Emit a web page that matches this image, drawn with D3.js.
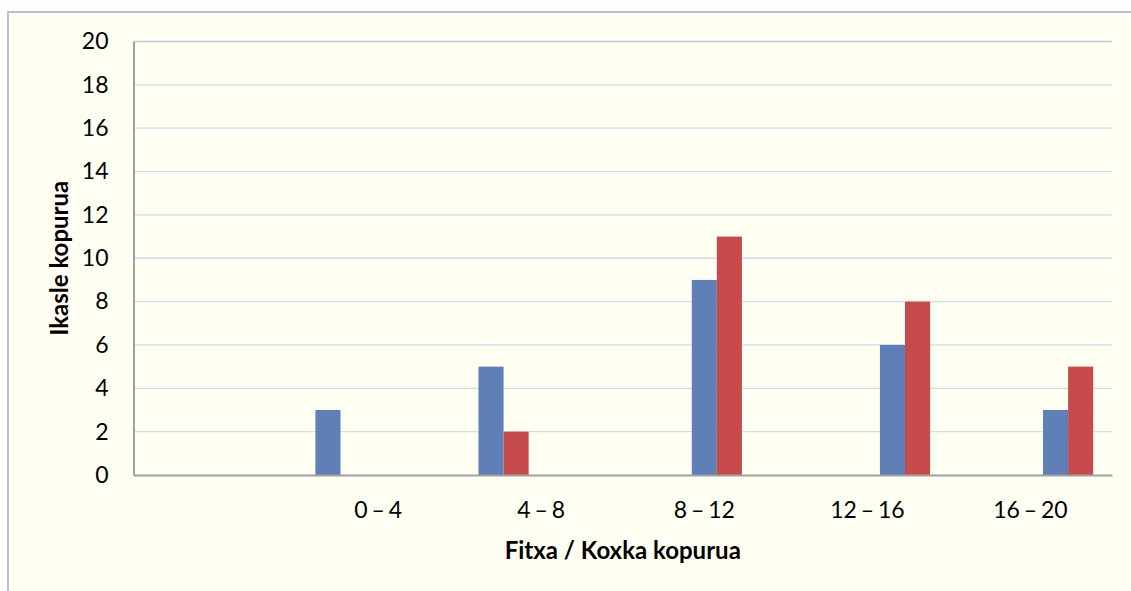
<!DOCTYPE html>
<html>
<head>
<meta charset="UTF-8">
<title>Ikasle kopurua</title>
<script src="https://cdn.jsdelivr.net/npm/d3@7"></script>
<style type="text/css">
	body{
		margin: 0;
		background: #ffffff;
	}
	svg text{
		font-family: Lato, "DejaVu Sans", sans-serif;
		fill: #000000;
	}
</style>
</head>
<body>
<script>
// first category has no label (empty slot in the original chart)
var categories = ["", "0 – 4", "4 – 8", "8 – 12", "12 – 16", "16 – 20"];
var blueValues = [null, 3, 5, 9, 6, 3];
var redValues  = [null, null, 2, 11, 8, 5];
// which of the 5 cluster slots the blue bar sits in (red is the next one)
var clusterSlot = [null, 0, 0, 2, 3, 3];
var slots = [0, 1, 2, 3, 4];
var yTicks = [0, 2, 4, 6, 8, 10, 12, 14, 16, 18, 20];

var width = 1131;
var height = 591;
var margin = {top: 41.5, right: 19, bottom: 116, left: 133.5};

var svg = d3.select("body").append("svg")
	.attr("width", width)
	.attr("height", height);

// chart area background + frame
svg.append("rect")
	.attr("x", 8)
	.attr("y", 12)
	.attr("width", width)
	.attr("height", height)
	.attr("fill", "#fffff2")
	.attr("stroke", "#b3c0da")
	.attr("stroke-width", 2);

var x = d3.scaleBand()
	.domain(categories)
	.range([margin.left, width - margin.right]);

var inner = d3.scaleBand()
	.domain(slots)
	.range([0, x.bandwidth()])
	.paddingOuter(0.75);

var y = d3.scaleLinear()
	.domain([0, 20])
	.range([height - margin.bottom, margin.top]);

// gridlines
svg.append("g")
	.selectAll("line")
	.data(yTicks.filter(function(d){ return d > 0; }))
	.enter()
		.append("line")
		.attr("x1", margin.left)
		.attr("x2", width - margin.right)
		.attr("y1", function(d){ return y(d); })
		.attr("y2", function(d){ return y(d); })
		.attr("stroke", function(d){ return d == 20 ? "#bcc7de" : "#d3daec"; })
		.attr("stroke-width", 1.3);

// bars
var bars = svg.append("g");
categories.forEach(function(c, i){
	if(clusterSlot[i] == null) return;
	if(blueValues[i] != null){
		bars.append("rect")
			.attr("x", x(c) + inner(clusterSlot[i]))
			.attr("y", y(blueValues[i]))
			.attr("width", inner.bandwidth())
			.attr("height", y(0) - y(blueValues[i]))
			.attr("fill", "#5f80b6");
	}
	if(redValues[i] != null){
		bars.append("rect")
			.attr("x", x(c) + inner(clusterSlot[i] + 1))
			.attr("y", y(redValues[i]))
			.attr("width", inner.bandwidth())
			.attr("height", y(0) - y(redValues[i]))
			.attr("fill", "#c84b4c");
	}
});

// y axis
var yAxis = svg.append("g")
	.attr("transform", "translate(" + margin.left + ",0)")
	.call(d3.axisLeft(y).tickValues(yTicks).tickSize(0).tickPadding(25));
yAxis.select(".domain").attr("stroke", "#a0a0a0").attr("stroke-width", 2);
yAxis.selectAll("text").attr("font-size", "23px");

// x axis
var xAxis = svg.append("g")
	.attr("transform", "translate(0," + y(0) + ")")
	.call(d3.axisBottom(x).tickSize(0).tickPadding(27));
xAxis.select(".domain").attr("stroke", "#a0a0a0").attr("stroke-width", 2);
xAxis.selectAll("text").attr("font-size", "23px").attr("word-spacing", "-2px");

// titles
svg.append("text")
	.attr("x", (margin.left + width - margin.right) / 2)
	.attr("y", 559)
	.attr("text-anchor", "middle")
	.attr("font-size", "24px")
	.attr("font-weight", "bold")
	.text("Fitxa / Koxka kopurua");

svg.append("text")
	.attr("transform", "translate(68," + (y(0) + y(20)) / 2 + ") rotate(-90)")
	.attr("text-anchor", "middle")
	.attr("font-size", "24px")
	.attr("font-weight", "bold")
	.text("Ikasle kopurua");
</script>
</body>
</html>
